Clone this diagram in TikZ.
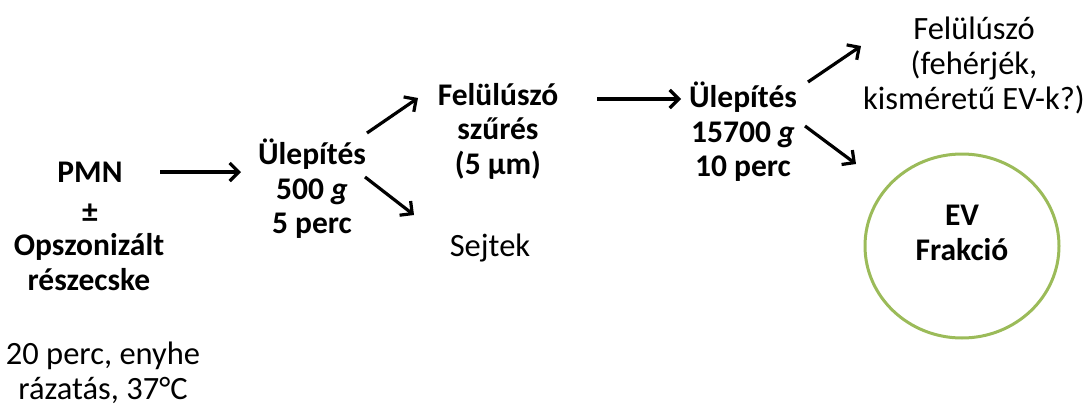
\documentclass[tikz,border=0pt]{standalone}
\usepackage{fontspec}
\setmainfont{Carlito}
\usetikzlibrary{arrows.meta,shapes.geometric}
\definecolor{evgreen}{RGB}{155,187,89}
\begin{document}
\begin{tikzpicture}[x=1pt,y=-1pt,
  txt/.style={align=center,font=\fontsize{32.5}{35}\selectfont,inner sep=0pt},
  btxt/.style={txt,font=\fontsize{31.5}{34.5}\selectfont\bfseries},
  arr/.style={line width=3.2pt,-{Straight Barb[length=9pt,width=18pt,line width=3.2pt]}}]
\useasboundingbox (0,0) rectangle (1088,407);
\node[btxt] (pmn) at (90,172) {PMN};
\node[btxt] (pm) at (90,213) {±};
\node[btxt] (opsz) at (89,262) {Opszonizált\\részecske};
\node[txt] (cond) at (103,373) {20 perc, enyhe\\rázatás, 37°C};
\node[btxt] (ul1) at (312,189) {Ülepítés\\500 \textit{g}\\5 perc};
\node[btxt] (fel) at (498,131) {Felülúszó\\szűrés\\(5 µm)};
\node[txt] (sej) at (490,248) {Sejtek};
\node[btxt] (ul2) at (743,132) {Ülepítés\\15700 \textit{g}\\10 perc};
\node[txt] (fel2) at (974,65) {Felülúszó\\(fehérjék,\\kisméretű EV-k?)};
\node[draw=evgreen,line width=3pt,ellipse,minimum width=194pt,minimum height=184pt,inner sep=0pt] (ev) at (962,246) {};
\node[btxt] (evt) at (962,233) {EV\\Frakció};
\coordinate (a1s) at (160,172); \coordinate (a1e) at (241,172);
\coordinate (a2s) at (367,133); \coordinate (a2e) at (418,98);
\coordinate (a3s) at (365,177); \coordinate (a3e) at (414,215);
\coordinate (a4s) at (597,99); \coordinate (a4e) at (681,99);
\coordinate (a5s) at (808,82); \coordinate (a5e) at (861,46);
\coordinate (a6s) at (805,126); \coordinate (a6e) at (856,164);
\draw[arr] (a1s) -- (a1e);
\draw[arr] (a2s) -- (a2e);
\draw[arr] (a3s) -- (a3e);
\draw[arr] (a4s) -- (a4e);
\draw[arr] (a5s) -- (a5e);
\draw[arr] (a6s) -- (a6e);
\end{tikzpicture}
\end{document}
